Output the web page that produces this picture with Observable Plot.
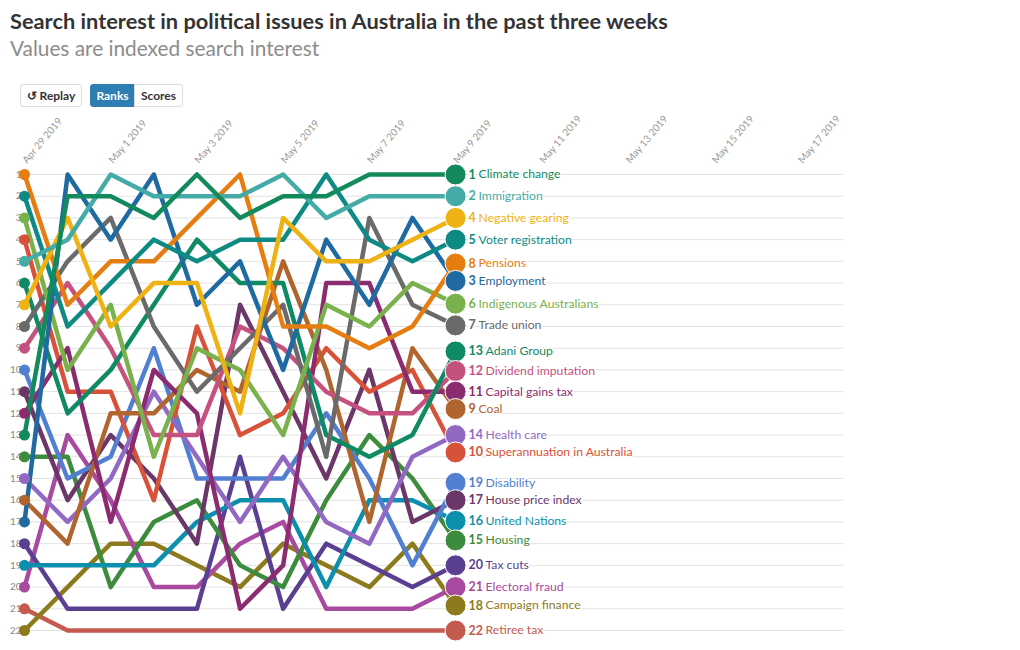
<!DOCTYPE html>
<html><head><meta charset="utf-8">
<script src="https://cdn.jsdelivr.net/npm/d3@7"></script>
<script src="https://cdn.jsdelivr.net/npm/@observablehq/plot@0.6"></script>
<style>
body{margin:0;background:#fff;font-family:Lato,"Open Sans",sans-serif;width:1020px;height:650px;position:relative;overflow:hidden;}
#title{position:absolute;left:10px;top:8px;font-size:21.8px;line-height:26px;font-weight:700;color:#333;white-space:nowrap;}
#subtitle{position:absolute;left:10px;top:36px;font-size:20.8px;line-height:24px;color:#8c8c8c;white-space:nowrap;}
.btn{position:absolute;top:84px;height:21px;border:1px solid #ddd;font-size:12px;font-weight:700;line-height:21px;color:#333;text-align:center;box-sizing:content-box;background:#fff;}
#replay{left:20px;width:60px;border-radius:3px;}
#ranks{left:90px;width:43px;background:#2d7fb3;border-color:#2d7fb3;color:#fff;border-radius:3px 0 0 3px;}
#scores{left:134px;width:47px;border-radius:0 3px 3px 0;}
#chart{position:absolute;left:0;top:110px;}
</style></head><body>
<div id="title">Search interest in political issues in Australia in the past three weeks</div>
<div id="subtitle">Values are indexed search interest</div>
<div class="btn" id="replay">↺ Replay</div>
<div class="btn" id="ranks">Ranks</div>
<div class="btn" id="scores">Scores</div>
<div id="chart"></div>
<script>
// ---- data ----
const dates = ["2019-04-29","2019-04-30","2019-05-01","2019-05-02","2019-05-03","2019-05-04","2019-05-05","2019-05-06","2019-05-07","2019-05-08","2019-05-09"];
const tickDates = ["2019-04-29","2019-05-01","2019-05-03","2019-05-05","2019-05-07","2019-05-09","2019-05-11","2019-05-13","2019-05-15","2019-05-17"];
const tickLabels = ["Apr 29 2019","May 1 2019","May 3 2019","May 5 2019","May 7 2019","May 9 2019","May 11 2019","May 13 2019","May 15 2019","May 17 2019"];
const rankTicks = [1,2,3,4,5,6,7,8,9,10,11,12,13,14,15,16,17,18,19,20,21,22];

const issues = ["Climate change","Immigration","Negative gearing","Voter registration","Pensions","Employment","Indigenous Australians","Trade union","Adani Group","Dividend imputation","Capital gains tax","Coal","Health care","Superannuation in Australia","Disability","House price index","United Nations","Housing","Tax cuts","Electoral fraud","Campaign finance","Retiree tax"];
const colors = ["#138a5b","#44aba6","#efb215","#0e8a84","#e67d10","#1f6aa1","#79b14c","#6a6a6a","#0f8a64","#c5517e","#8c2c70","#b0652f","#9269c2","#d8523a","#5180d2","#6b3668","#0c8fad","#3d8b3d","#5b3f91","#a74aa0","#8d7a1c","#c55a4f"];
const labelRanks = [1,2,4,5,8,3,6,7,13,12,11,9,14,10,19,17,16,15,20,21,18,22];

const climateChange     = [13, 2, 2, 3, 1, 3, 2, 2, 1, 1, 1];
const immigration       = [5, 4, 1, 2, 2, 2, 1, 3, 2, 2, 2];
const negativeGearing   = [7, 3, 8, 6, 6, 12, 3, 5, 5, 4, 3];
const voterRegistration = [2, 8, 6, 4, 5, 4, 4, 1, 4, 5, 4];
const pensions          = [1, 7, 5, 5, 3, 1, 8, 8, 9, 8, 5.1];
const employment        = [17, 1, 4, 1, 7, 5, 10, 4, 7, 3, 5.9];
const indigenous        = [3, 10, 7, 14, 9, 10, 13, 7, 8, 6, 6.95];
const tradeUnion        = [8, 5, 3, 8, 11, 9, 7, 14, 3, 7, 7.95];
const adaniGroup        = [6, 12, 10, 7, 4, 6, 6, 13, 14, 13, 9.15];
const dividendImput     = [9, 6, 9, 13, 13, 8, 9, 11, 12, 12, 10.05];
const capitalGainsTax   = [12, 9, 17, 10, 12, 21, 19, 6, 6, 11, 11];
const coal              = [16, 18, 12, 12, 10, 11, 5, 10, 17, 9, 11.8];
const healthCare        = [15, 17, 15, 11, 14, 17, 14, 17, 18, 14, 13];
const superannuation    = [4, 11, 11, 16, 8, 13, 12, 9, 11, 10, 13.8];
const disability        = [10, 15, 14, 9, 15, 15, 15, 12, 15, 19, 15.2];
const housePriceIndex   = [11, 16, 13, 15, 18, 7, 11, 15, 10, 17, 16];
const unitedNations     = [19, 19, 19, 19, 17, 16, 16, 20, 16, 16, 16.95];
const housing           = [14, 14, 20, 17, 16, 19, 20, 16, 13, 15, 17.85];
const taxCuts           = [18, 21, 21, 21, 21, 14, 21, 18, 19, 20, 19];
const electoralFraud    = [20, 13, 16, 20, 20, 18, 17, 21, 21, 21, 20];
const campaignFinance   = [22, 20, 18, 18, 19, 20, 18, 19, 20, 18, 20.85];
const retireeTax        = [21, 22, 22, 22, 22, 22, 22, 22, 22, 22, 22];

const seriesRanks = [climateChange, immigration, negativeGearing, voterRegistration, pensions, employment, indigenous, tradeUnion, adaniGroup, dividendImput, capitalGainsTax, coal, healthCare, superannuation, disability, housePriceIndex, unitedNations, housing, taxCuts, electoralFraud, campaignFinance, retireeTax];

// ---- build ----
const parse = d3.utcParse("%Y-%m-%d");
const rows = [];
issues.forEach((name, i) => seriesRanks[i].forEach((r, j) => rows.push({name, date: parse(dates[j]), rank: r})));
const startRows = rows.filter(d => +d.date === +parse(dates[0]));
const endRows = issues.map((name, i) => ({name, date: parse(dates[dates.length - 1]), rank: seriesRanks[i][dates.length - 1], label: labelRanks[i]}));
const oneDigit = endRows.filter(d => d.label < 10);
const twoDigit = endRows.filter(d => d.label >= 10);
const ticks = tickDates.map(parse);
const drawOrder = rows.slice().reverse();

const chart = Plot.plot({
  width: 1020, height: 535,
  marginLeft: 24, marginRight: 177, marginTop: 64, marginBottom: 15,
  x: {type: "utc", domain: [parse("2019-04-29"), parse("2019-05-18")], axis: null},
  y: {domain: [1, 22], reverse: true, axis: null},
  color: {domain: issues, range: colors},
  style: {fontFamily: "Lato, sans-serif", background: "transparent", overflow: "visible"},
  marks: [
    Plot.ruleY(rankTicks, {y: d => d, stroke: "#e2e2e2", strokeWidth: 1}),
    Plot.text(rankTicks, {x: () => parse(dates[0]), y: d => d, text: d => String(d), textAnchor: "end", dx: -3, fill: "#8a8a8a", fontSize: 10}),
    Plot.text(ticks, {x: d => d, text: (d, i) => tickLabels[i], frameAnchor: "top", rotate: -50, textAnchor: "start", dx: -3, dy: -15, fill: "#9a9a9a", fontSize: 10}),
    Plot.line(drawOrder, {x: "date", y: "rank", z: "name", stroke: "name", strokeWidth: 4.5, strokeLinejoin: "round", strokeLinecap: "round", sort: {channel: "x"}}),
    Plot.dot(startRows, {x: "date", y: "rank", fill: "name", r: 5.5}),
    Plot.dot(endRows, {x: "date", y: "rank", fill: "name", r: 10.5, stroke: "white", strokeWidth: 1}),
    Plot.text(endRows, {x: "date", y: "rank", text: d => String(d.label), dx: 13, textAnchor: "start", fontWeight: 700, fill: "name", stroke: "white", strokeWidth: 3, fontSize: 12.5}),
    Plot.text(oneDigit, {x: "date", y: "rank", text: "name", dx: 23, textAnchor: "start", fill: "name", stroke: "white", strokeWidth: 3, fontSize: 12.2}),
    Plot.text(twoDigit, {x: "date", y: "rank", text: "name", dx: 30, textAnchor: "start", fill: "name", stroke: "white", strokeWidth: 3, fontSize: 12.2})
  ]
});
document.getElementById("chart").appendChild(chart);
</script>
</body></html>
